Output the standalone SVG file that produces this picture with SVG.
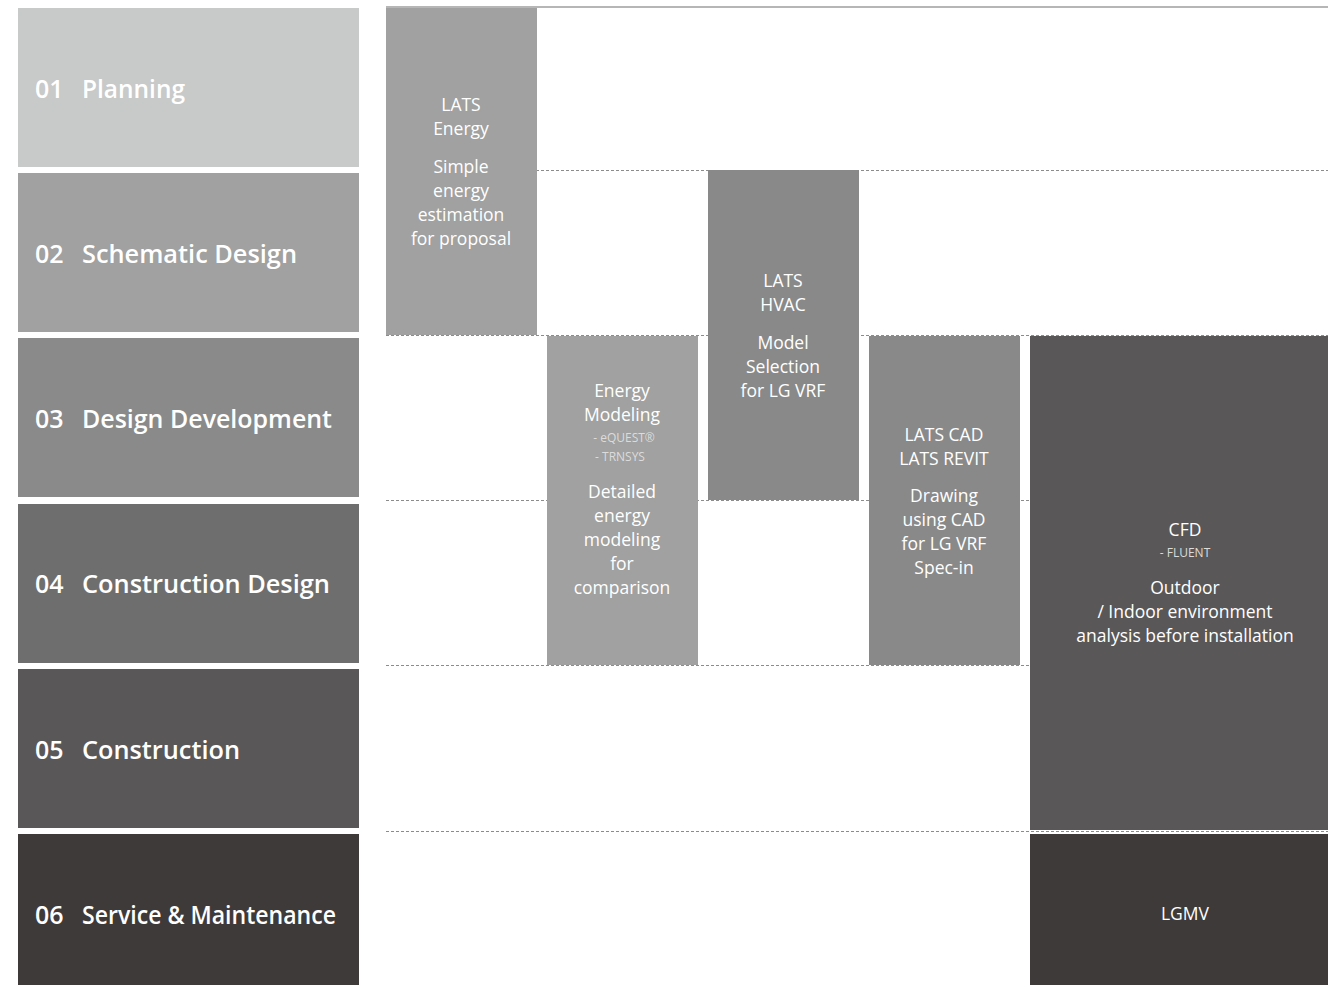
<svg xmlns="http://www.w3.org/2000/svg" width="1328" height="985" viewBox="0 0 1328 985">
<style>
.stage{font-family:"Open Sans","Noto Sans","Liberation Sans",sans-serif;font-weight:600;font-size:25px;fill:#ffffff}
.t{font-family:"Open Sans","Noto Sans","Liberation Sans",sans-serif;font-size:17.5px;fill:#ffffff;text-anchor:middle}
.s{font-family:"Open Sans","Noto Sans","Liberation Sans",sans-serif;font-size:12px;fill:#dcdcdc;text-anchor:middle}
.dash{stroke:#8c8c8c;stroke-width:1;stroke-dasharray:3,2;fill:none}
</style>
<rect width="1328" height="985" fill="#ffffff"/>
<g id="stages">
<g id="stage01"><rect x="18" y="8" width="341" height="159" fill="#c8c9c9"/><text class="stage" x="35" y="98">01</text><text class="stage" x="82" y="98" textLength="103" lengthAdjust="spacingAndGlyphs">Planning</text></g>
<g id="stage02"><rect x="18" y="173" width="341" height="159" fill="#a0a1a0"/><text class="stage" x="35" y="263">02</text><text class="stage" x="82" y="263" textLength="215" lengthAdjust="spacingAndGlyphs">Schematic Design</text></g>
<g id="stage03"><rect x="18" y="338" width="341" height="159" fill="#8a8a8a"/><text class="stage" x="35" y="428">03</text><text class="stage" x="82" y="428" textLength="250" lengthAdjust="spacingAndGlyphs">Design Development</text></g>
<g id="stage04"><rect x="18" y="504" width="341" height="159" fill="#6f6e6e"/><text class="stage" x="35" y="593">04</text><text class="stage" x="82" y="593" textLength="248" lengthAdjust="spacingAndGlyphs">Construction Design</text></g>
<g id="stage05"><rect x="18" y="669" width="341" height="159" fill="#595758"/><text class="stage" x="35" y="759">05</text><text class="stage" x="82" y="759" textLength="158" lengthAdjust="spacingAndGlyphs">Construction</text></g>
<g id="stage06"><rect x="18" y="834" width="341" height="151" fill="#3e3a39"/><text class="stage" x="35" y="924">06</text><text class="stage" x="82" y="924" textLength="254" lengthAdjust="spacingAndGlyphs">Service &amp; Maintenance</text></g>
</g>
<g id="connectors">
<line x1="386" y1="7" x2="1328" y2="7" stroke="#6e6e6e" stroke-width="1.2"/>
<line class="dash" x1="386" y1="170.5" x2="1328" y2="170.5"/>
<line class="dash" x1="386" y1="335.5" x2="1328" y2="335.5"/>
<line class="dash" x1="386" y1="500.5" x2="1328" y2="500.5"/>
<line class="dash" x1="386" y1="665.5" x2="1328" y2="665.5"/>
<line class="dash" x1="386" y1="831.5" x2="1328" y2="831.5"/>
</g>
<g id="lats-energy"><rect x="386" y="8" width="151" height="327" fill="#a0a1a0"/>
<text class="t" x="461" y="111">LATS</text><text class="t" x="461" y="135">Energy</text>
<text class="t" x="461" y="173">Simple</text><text class="t" x="461" y="197">energy</text><text class="t" x="461" y="221">estimation</text><text class="t" x="461" y="245">for proposal</text></g>
<g id="energy-modeling"><rect x="547" y="336" width="151" height="329" fill="#a0a1a0"/>
<text class="t" x="622" y="397">Energy</text><text class="t" x="622" y="421">Modeling</text>
<text class="s" x="624" y="442">- eQUEST®</text><text class="s" x="620" y="461">- TRNSYS</text>
<text class="t" x="622" y="498">Detailed</text><text class="t" x="622" y="522">energy</text><text class="t" x="622" y="546">modeling</text><text class="t" x="622" y="570">for</text><text class="t" x="622" y="594">comparison</text></g>
<g id="lats-hvac"><rect x="708" y="170" width="151" height="330" fill="#898989"/>
<text class="t" x="783" y="287">LATS</text><text class="t" x="783" y="311">HVAC</text>
<text class="t" x="783" y="349">Model</text><text class="t" x="783" y="373">Selection</text><text class="t" x="783" y="397">for LG VRF</text></g>
<g id="lats-cad"><rect x="869" y="336" width="151" height="329" fill="#898989"/>
<text class="t" x="944" y="441">LATS CAD</text><text class="t" x="944" y="465">LATS REVIT</text>
<text class="t" x="944" y="502">Drawing</text><text class="t" x="944" y="526">using CAD</text><text class="t" x="944" y="550">for LG VRF</text><text class="t" x="944" y="574">Spec-in</text></g>
<g id="cfd"><rect x="1030" y="336" width="298" height="494" fill="#595758"/>
<text class="t" x="1185" y="536">CFD</text><text class="s" x="1185" y="557">- FLUENT</text>
<text class="t" x="1185" y="594">Outdoor</text><text class="t" x="1185" y="618">/ Indoor environment</text><text class="t" x="1185" y="642">analysis before installation</text></g>
<g id="lgmv"><rect x="1030" y="834" width="298" height="151" fill="#3e3a39"/>
<text class="t" x="1185" y="920">LGMV</text></g>
</svg>
